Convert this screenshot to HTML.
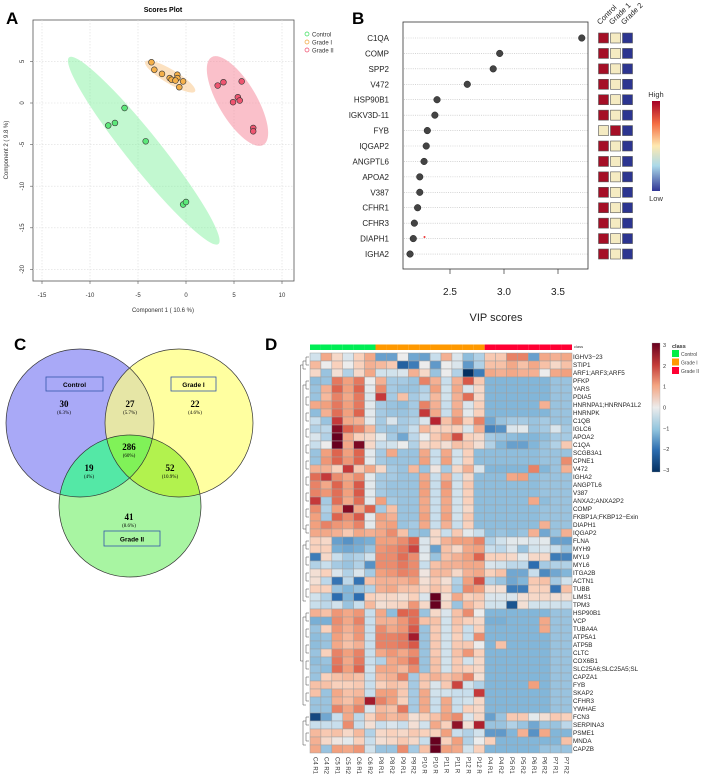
<!DOCTYPE html>
<html><head><meta charset="utf-8"><style>
html,body{margin:0;padding:0;background:#fff;}
svg{display:block;font-family:"Liberation Sans",sans-serif;}
</style></head><body>
<svg id="root" width="708" height="779" viewBox="0 0 708 779" xmlns="http://www.w3.org/2000/svg">
<defs>
<linearGradient id="vipgrad" x1="0" y1="0" x2="0" y2="1">
<stop offset="0" stop-color="#a50026"/><stop offset="0.25" stop-color="#f46d43"/><stop offset="0.5" stop-color="#fee9b0"/><stop offset="0.72" stop-color="#abd9e9"/><stop offset="1" stop-color="#313695"/>
</linearGradient>
<linearGradient id="hmgrad" x1="0" y1="0" x2="0" y2="1">
<stop offset="0" stop-color="#67001f"/><stop offset="0.17" stop-color="#c43c39"/><stop offset="0.33" stop-color="#f4a582"/><stop offset="0.5" stop-color="#ececec"/><stop offset="0.67" stop-color="#92c5de"/><stop offset="0.83" stop-color="#2c6db0"/><stop offset="1" stop-color="#053061"/>
</linearGradient>
<clipPath id="clipC"><circle cx="80" cy="423" r="74"/></clipPath>
<clipPath id="clipG1"><circle cx="179" cy="423" r="74"/></clipPath>
<clipPath id="clipG2"><circle cx="130" cy="506" r="71"/></clipPath>
</defs>

<!-- Panel labels -->
<text x="6" y="24" font-size="17" font-weight="bold">A</text>
<text x="352" y="24" font-size="17" font-weight="bold">B</text>
<text x="14" y="350" font-size="17" font-weight="bold">C</text>
<text x="265" y="350" font-size="17" font-weight="bold">D</text>

<!-- Panel A -->
<g id="panelA">
<text x="163" y="12" font-size="7" font-weight="bold" text-anchor="middle">Scores Plot</text>
<rect x="33" y="20" width="261" height="261" fill="none" stroke="#555" stroke-width="0.8"/>
<g id="aGrid"></g><g id="aEll"></g><g id="aPts"></g><g id="aTicks"></g>
<text x="163" y="312" font-size="6" text-anchor="middle" fill="#333">Component 1 ( 10.6 %)</text>
<text x="8" y="150" font-size="6" text-anchor="middle" fill="#333" transform="rotate(-90 8 150)">Component 2 ( 9.8 %)</text>
</g>
<g>
<circle cx="307" cy="34" r="2" fill="none" stroke="#33dd55" stroke-width="0.7"/>
<text x="312" y="36.5" font-size="6" fill="#333">Control</text>
<circle cx="307" cy="42" r="2" fill="none" stroke="#f0a030" stroke-width="0.7"/>
<text x="312" y="44.5" font-size="6" fill="#333">Grade I</text>
<circle cx="307" cy="50" r="2" fill="none" stroke="#ee4466" stroke-width="0.7"/>
<text x="312" y="52.5" font-size="6" fill="#333">Grade II</text>
</g>

<!-- Panel B -->
<g id="panelB">
<rect x="403" y="22" width="185" height="247" fill="none" stroke="#333" stroke-width="0.8"/>
<g id="bRows"></g><g id="bTicks"></g>
<circle cx="424.5" cy="237" r="1" fill="#e33"/>
<text x="496" y="321" font-size="11" text-anchor="middle" fill="#222">VIP scores</text>
<text x="600" y="25" font-size="7.5" transform="rotate(-45 600 25)" fill="#222">Control</text>
<text x="612" y="25" font-size="7.5" transform="rotate(-45 612 25)" fill="#222">Grade 1</text>
<text x="624" y="25" font-size="7.5" transform="rotate(-45 624 25)" fill="#222">Grade 2</text>
<rect x="652" y="101" width="8" height="90" fill="url(#vipgrad)"/>
<text x="656" y="97" font-size="7.5" text-anchor="middle" fill="#333">High</text>
<text x="656" y="201" font-size="7.5" text-anchor="middle" fill="#333">Low</text>
</g>

<!-- Panel C Venn -->
<g id="panelC">
<circle cx="80" cy="423" r="74" fill="#a9a9f7"/>
<circle cx="179" cy="423" r="74" fill="#ffffa0"/>
<circle cx="130" cy="506" r="71" fill="#a8f5a2"/>
<circle cx="179" cy="423" r="74" fill="#e6e6a6" clip-path="url(#clipC)"/>
<circle cx="130" cy="506" r="71" fill="#54e8a6" clip-path="url(#clipC)"/>
<circle cx="130" cy="506" r="71" fill="#b2f24e" clip-path="url(#clipG1)"/>
<g clip-path="url(#clipC)"><circle cx="130" cy="506" r="71" fill="#80f258" clip-path="url(#clipG1)"/></g>
<circle cx="80" cy="423" r="74" fill="none" stroke="#333" stroke-width="0.7"/>
<circle cx="179" cy="423" r="74" fill="none" stroke="#333" stroke-width="0.7"/>
<circle cx="130" cy="506" r="71" fill="none" stroke="#333" stroke-width="0.7"/>
<rect x="46" y="377" width="57" height="14" fill="none" stroke="#3355aa" stroke-width="0.8"/>
<text x="74.5" y="387" font-size="6.5" font-weight="bold" text-anchor="middle">Control</text>
<rect x="171" y="377" width="45" height="14" fill="none" stroke="#3355aa" stroke-width="0.8"/>
<text x="193.5" y="387" font-size="6.5" font-weight="bold" text-anchor="middle">Grade I</text>
<rect x="104" y="531" width="56" height="15" fill="none" stroke="#3355aa" stroke-width="0.8"/>
<text x="132" y="541.5" font-size="6.5" font-weight="bold" text-anchor="middle">Grade II</text>
<g font-family="'Liberation Serif',serif" text-anchor="middle">
<text x="64" y="407" font-size="9" font-weight="bold">30</text>
<text x="64" y="414" font-size="5">(6.3%)</text>
<text x="130" y="407" font-size="9" font-weight="bold">27</text>
<text x="130" y="414" font-size="5">(5.7%)</text>
<text x="195" y="407" font-size="9" font-weight="bold">22</text>
<text x="195" y="414" font-size="5">(4.6%)</text>
<text x="129" y="450" font-size="9" font-weight="bold">286</text>
<text x="129" y="457" font-size="5">(60%)</text>
<text x="89" y="471" font-size="9" font-weight="bold">19</text>
<text x="89" y="478" font-size="5">(4%)</text>
<text x="170" y="471" font-size="9" font-weight="bold">52</text>
<text x="170" y="478" font-size="5">(10.9%)</text>
<text x="129" y="520" font-size="9" font-weight="bold">41</text>
<text x="129" y="527" font-size="5">(8.6%)</text>
</g>
</g>

<!-- Panel D -->
<g id="panelD">
<g id="dClass"></g><g id="dCells"></g><g id="dRowLab"></g><g id="dColLab"></g><g id="dDendro"></g>
<text x="574" y="348" font-size="4" fill="#333">class</text>
<rect x="652" y="343" width="8" height="129" fill="url(#hmgrad)" stroke="#999" stroke-width="0.3"/>
<g font-size="5.5" fill="#333" id="dScale"></g>
<text x="672" y="348" font-size="5.5" font-weight="bold" fill="#333">class</text>
<rect x="672" y="350" width="7" height="7" fill="#00ee44"/>
<text x="681" y="356" font-size="5" fill="#444">Control</text>
<rect x="672" y="358.5" width="7" height="7" fill="#ff9900"/>
<text x="681" y="364.5" font-size="5" fill="#444">Grade I</text>
<rect x="672" y="367" width="7" height="7" fill="#ff0033"/>
<text x="681" y="373" font-size="5" fill="#444">Grade II</text>
</g>
</svg>
<script>
var NS="http://www.w3.org/2000/svg";
function mk(tag,attrs,parent){var e=document.createElementNS(NS,tag);for(var k in attrs)e.setAttribute(k,attrs[k]);parent.appendChild(e);return e;}

/* ===== Panel A data ===== */
var aXTicks=[-15,-10,-5,0,5,10];
var aYTicks=[5,0,-5,-10,-15,-20];
var ctrlX=[-6.4,-7.4,-8.1,-4.2,-0.3,0.0];
var ctrlY=[-0.6,-2.4,-2.7,-4.6,-12.2,-11.9];
var g1X=[-3.6,-3.3,-2.5,-1.7,-1.5,-0.9,-0.9,-1.1,-0.3,-0.7];
var g1Y=[4.9,4.0,3.5,3.0,2.8,3.4,3.0,2.7,2.6,1.9];
var g2X=[3.3,3.9,5.8,5.4,5.6,4.9,7.0,7.0];
var g2Y=[2.1,2.5,2.6,0.7,0.3,0.1,-3.0,-3.4];
function ax(v){return 42+(v+15)*9.6;}
function ay(v){return 103-v*8.32;}
(function(){
var grid=document.getElementById('aGrid'),tk=document.getElementById('aTicks');
aXTicks.forEach(function(t){
 var l=mk('line',{x1:ax(t),x2:ax(t),y1:20,y2:281,stroke:'#ddd','stroke-dasharray':'1.5,1.5','stroke-width':0.6},grid);
 
 mk('line',{x1:ax(t),x2:ax(t),y1:281,y2:284,stroke:'#555','stroke-width':0.6},tk);
 var tx=mk('text',{x:ax(t),y:297,'font-size':6,'text-anchor':'middle',fill:'#333'},tk);tx.textContent=t;
 
});
aYTicks.forEach(function(t){
 var l=mk('line',{x1:33,x2:294,y1:ay(t),y2:ay(t),stroke:'#ddd','stroke-dasharray':'1.5,1.5','stroke-width':0.6},grid);
 
 mk('line',{x1:30,x2:33,y1:ay(t),y2:ay(t),stroke:'#555','stroke-width':0.6},tk);
 var tx=mk('text',{x:24,y:ay(t),'font-size':6,'text-anchor':'middle',fill:'#333',transform:'rotate(-90 24 '+ay(t)+')'},tk);tx.textContent=t;
 
});
var ell=document.getElementById('aEll');
function ellipse(xs,ys,fill,minor,name){
 var mx=0,my=0,n=xs.length;for(var i=0;i<n;i++){mx+=ax(xs[i]);my+=ay(ys[i]);}mx/=n;my/=n;
 var sxx=0,syy=0,sxy=0;for(i=0;i<n;i++){var dx=ax(xs[i])-mx,dy=ay(ys[i])-my;sxx+=dx*dx;syy+=dy*dy;sxy+=dx*dy;}
 var ang=0.5*Math.atan2(2*sxy,sxx-syy)*180/Math.PI;
 var tr=(sxx+syy)/n,det=(sxx*syy-sxy*sxy)/(n*n),l1=tr/2+Math.sqrt(tr*tr/4-det);
 var major=Math.sqrt(l1)*2.45;
 var e=mk('ellipse',{cx:mx,cy:my,rx:major,ry:minor,fill:fill,transform:'rotate('+ang+' '+mx+' '+my+')'},ell);
 
}
ellipse(ctrlX,ctrlY,'rgba(120,240,150,0.45)',17,'ellipse-control');
ellipse(g1X,g1Y,'rgba(250,200,140,0.55)',7,'ellipse-grade1');
ellipse(g2X,g2Y,'rgba(245,130,150,0.5)',19,'ellipse-grade2');
var pts=document.getElementById('aPts');
function draw(xs,ys,fill,name){for(var i=0;i<xs.length;i++){var c=mk('circle',{cx:ax(xs[i]),cy:ay(ys[i]),r:2.9,fill:fill,stroke:'#333','stroke-width':0.6},pts);
 }}
draw(ctrlX,ctrlY,'#5ce87a','point-control');draw(g1X,g1Y,'#f5b04a','point-grade1');draw(g2X,g2Y,'#ee5570','point-grade2');
})();

/* ===== Panel B data ===== */
var vipNames=["C1QA","COMP","SPP2","V472","HSP90B1","IGKV3D-11","FYB","IQGAP2","ANGPTL6","APOA2","V387","CFHR1","CFHR3","DIAPH1","IGHA2"];
var vipScores=[3.72,2.96,2.90,2.66,2.38,2.36,2.29,2.28,2.26,2.22,2.22,2.20,2.17,2.16,2.13];
var vipTicks=[2.5,3.0,3.5];
var vipCtrl=["H","H","H","H","H","H","M","H","H","H","H","H","H","H","H"];
var vipG1=["M","M","M","M","M","M","H","M","M","M","M","M","M","M","M"];
var vipG2=["L","L","L","L","L","L","L","L","L","L","L","L","L","L","L"];
function bx(v){return 450+(v-2.5)*108;}
function by(i){return 38+i*15.43;}
(function(){
var rows=document.getElementById('bRows'),tk=document.getElementById('bTicks');
var col={H:'#a50f26',M:'#f5ebc2',L:'#2c3590'};
vipNames.forEach(function(n,i){
 var y=by(i);
 mk('line',{x1:404,x2:588,y1:y,y2:y,stroke:'#bbb','stroke-dasharray':'1,1.2','stroke-width':0.6},rows);
 var t=mk('text',{x:389,y:y+3,'font-size':8,'text-anchor':'end',fill:'#222'},rows);t.textContent=n;
 
 var c=mk('circle',{cx:bx(vipScores[i]),cy:y,r:3.3,fill:'#444',stroke:'#222','stroke-width':0.5},rows);
 
 [vipCtrl[i],vipG1[i],vipG2[i]].forEach(function(k,j){
  var r=mk('rect',{x:598.5+j*12,y:y-5,width:10,height:10,fill:col[k],stroke:'#555','stroke-width':0.6},rows);
  
 });
});
vipTicks.forEach(function(t){
 mk('line',{x1:bx(t),x2:bx(t),y1:269,y2:274,stroke:'#333','stroke-width':0.7},tk);
 var tx=mk('text',{x:bx(t),y:295,'font-size':10,'text-anchor':'middle',fill:'#222'},tk);tx.textContent=t.toFixed(1);
 
});
})();

/* ===== Panel D data ===== */
var hmCols=["C4 R1","C4 R2","C5 R1","C5 R2","C6 R1","C6 R2","P8 R1","P8 R2","P9 R1","P9 R2","P10 R","P10 R","P11 R","P11 R","P12 R","P12 R","P4 R1","P4 R2","P5 R1","P5 R2","P6 R1","P6 R2","P7 R1","P7 R2"];
var hmClass=[0,0,0,0,0,0,1,1,1,1,1,1,1,1,1,1,2,2,2,2,2,2,2,2];
var hmRows=["IGHV3\u221223","STIP1","ARF1;ARF3;ARF5","PFKP","YARS","PDIA5","HNRNPA1;HNRNPA1L2","HNRNPK","C1QB","IGLC6","APOA2","C1QA","SCGB3A1","CPNE1","V472","IGHA2","ANGPTL6","V387","ANXA2;ANXA2P2","COMP","FKBP1A;FKBP12\u2212Exin","DIAPH1","IQGAP2","FLNA","MYH9","MYL9","MYL6","ITGA2B","ACTN1","TUBB","LIMS1","TPM3","HSP90B1","VCP","TUBA4A","ATP5A1","ATP5B","CLTC","COX6B1","SLC25A6;SLC25A5;SL","CAPZA1","FYB","SKAP2","CFHR3","YWHAE","FCN3","SERPINA3","PSME1","MNDA","CAPZB"];
var hmScaleTicks=[3,2,1,0,-1,-2,-3];
var hmValues=[
[-0.3,0.9,0.3,-0.2,0.4,0.9,-1.3,-1.3,0,-1.2,-1.3,-0.4,0.8,-0.2,-0.9,-0.6,0.5,0.5,1.3,1.3,-1.3,0.9,0.8,0.9],
[0.7,0,0.4,0,0.4,0.8,0.7,0.5,-2.2,-1.8,0,-1.4,0,-0.2,-1.4,-0.6,0.6,0.6,0.9,0.6,0.9,0.6,0.3,0.6],
[0.3,-0.8,0.2,-0.6,0.3,0.9,-0.3,-0.3,-0.2,0.8,0.3,-0.8,0,-0.6,-3,-1.8,0.9,0.8,0.9,0.8,0.8,0,0.9,1.0],
[-0.9,-0.8,1.4,1.0,1.4,0,0.8,-0.7,-0.7,-0.8,1.3,0.8,-0.4,0.8,1.7,0.5,-1.0,-1.0,-1.0,-1.0,-1.0,-1.0,-0.8,-0.8],
[-0.8,0.8,1.6,1.0,1.6,-0.1,1.2,-0.7,-0.8,-0.8,-0.6,1.0,-0.3,0.9,-0.2,0.3,-1.0,-1.0,-1.0,-1.0,-1.0,-1.0,-0.8,-0.8],
[-0.8,0.7,1.3,0.9,1.4,-0.2,2.0,-0.7,0.6,-0.7,-0.5,0.7,-0.3,0.8,1.5,0.3,-1.0,-1.0,-1.0,-1.0,-1.0,-1.0,-0.8,-0.8],
[0.9,1.0,1.4,1.0,1.4,-0.1,-0.7,-0.8,-0.9,-0.7,1.3,0.8,-0.4,0.8,-0.2,0.4,-1.0,-1.0,-1.0,-1.0,-1.0,0.8,-0.8,-0.8],
[-0.9,0.8,1.5,1.0,1.6,-0.1,-0.7,-0.8,-0.8,-0.7,2.0,0.9,-0.4,0.9,-0.1,0.4,-1.0,-1.0,-1.0,-1.0,-1.0,-1.0,-0.8,-0.8],
[-0.4,-0.8,2.0,0.9,0.8,-0.1,-0.7,-0.2,-0.7,-0.6,-0.2,2.2,0.6,1.2,0.4,1.3,-1.2,-0.8,-0.7,-0.7,-0.8,-0.7,-0.8,-0.8],
[-0.6,-0.5,2.7,1.6,1.3,0.7,-0.7,-0.8,-0.7,-0.4,0.7,0.4,0.4,0.4,-0.2,0.8,-1.7,-1.5,-0.2,-0.1,-0.8,-0.7,-0.2,-0.7],
[-0.2,-0.6,3,0.9,0.4,0.3,-0.1,-0.7,-1.2,-0.5,0,0.5,0.9,1.8,0.4,0.3,-0.7,-0.8,-0.9,-1.0,-1.0,-0.9,-0.7,-0.7],
[-0.4,0,3,0.9,2.8,0.3,-0.4,-0.3,0,-0.6,0.3,0.4,0.2,0.6,0.5,0.2,-0.6,-1.0,-1.3,-1.3,-1.0,-0.8,-0.6,0.5],
[-0.8,1.0,1.6,1.0,1.6,-0.1,-0.7,0.9,-0.8,-0.8,0.9,-0.4,0.9,-0.3,0.4,-0.9,-0.9,-0.9,-0.9,-0.9,-0.9,-0.8,-0.8,-0.8],
[-0.8,1.1,1.6,1.1,1.6,-0.1,-0.7,-0.8,-0.8,-0.8,1.0,-0.4,1.0,-0.3,0.4,-0.9,-0.9,-0.9,-0.9,-0.9,-0.9,-0.8,-0.8,1.2],
[0.8,0.8,0.4,2.0,0.5,0.9,0.3,-0.7,-0.8,0.7,-0.8,0.1,-0.7,0.3,0.8,-0.2,-1.0,-1.0,-1.0,-1.0,1.3,-1.0,-0.8,0.8],
[1.5,2.0,1.2,0.9,1.2,-0.1,-0.7,-0.7,-0.8,-0.8,0.9,-0.4,0.8,-0.4,0.3,-0.9,-0.9,-0.9,0.9,1.0,-0.9,-0.8,-0.8,-0.8],
[1.3,0.9,1.6,1.0,1.7,-0.1,-0.7,-0.8,-0.8,-0.8,1.0,-0.4,1.1,-0.3,0.5,-0.9,-0.9,-0.9,-0.9,-0.9,-0.9,-0.8,-0.8,-0.8],
[1.3,1.1,1.5,1.0,1.7,-0.1,-0.7,-0.8,-0.8,-0.8,1.0,-0.4,1.0,-0.3,0.4,-0.9,-0.9,-0.9,-0.9,-0.9,-0.9,-0.8,-0.8,-0.8],
[2.0,-0.7,1.5,0.9,1.5,-0.1,1.0,-0.7,-0.8,-0.8,0.9,-0.4,0.9,-0.3,0.4,-0.9,-0.9,-0.9,-0.9,-0.9,0.9,-0.9,-0.8,-0.8],
[1.2,-0.6,1.0,2.7,0.9,1.6,-0.7,0.6,-0.8,-0.8,0.9,-0.4,0.9,-0.3,0.3,-0.9,-0.9,-0.9,-0.9,-0.9,-0.9,-0.8,-0.8,-0.8],
[1.0,-0.7,1.6,1.2,1.7,-0.1,1.0,0.8,-0.8,-0.8,1.0,-0.4,1.0,-0.3,0.5,-0.9,-0.9,-0.9,-0.9,-0.9,-0.9,-0.8,-0.8,-0.8],
[1.0,1.3,1.1,1.0,1.3,-0.1,0.9,1.0,-0.8,-0.7,0.9,-0.4,0.8,-0.4,0.4,-0.9,-0.9,-0.9,-0.9,-0.9,-0.9,0.8,-0.8,-0.8],
[0.9,0.9,0.8,0.5,0.9,0.8,0.9,1.2,0.6,-0.8,-0.9,0.3,-0.4,0.5,-0.1,-0.4,-0.9,-0.8,-0.9,-0.8,0.8,-1.2,-0.8,0.8],
[0.4,0.3,-1.3,-1.5,-1.2,-1.1,1.0,1.0,1.2,1.6,-0.2,0.3,0.8,1.0,1.0,1.3,-0.6,-0.3,-0.1,-0.1,-0.2,-0.1,-1.3,-1.3],
[0.4,0.4,-1.1,-1.2,-1.1,-0.8,1.1,1.2,1.4,1.9,-0.2,-1.3,0.6,0.3,0.9,1.0,-0.4,-0.5,-0.2,-0.8,-0.3,-0.2,-0.4,-0.8],
[-1.8,0.3,-0.4,-0.7,-0.6,-0.3,1.2,1.2,1.5,1.2,-0.1,-0.8,0.6,0.8,1.0,1.6,0.4,0.4,0.3,-0.1,0.3,0.3,-1.8,-1.7],
[-0.6,-0.4,-0.7,-0.8,-0.6,-1.5,1.2,1.2,1.4,1.2,-0.4,0.6,0.8,0.8,0.9,0.9,-0.2,-0.3,-0.5,-0.5,-2.0,-0.7,-0.6,-0.6],
[0.2,0.4,-0.2,-0.6,-0.2,-0.7,1.0,1.1,1.3,1.2,0.1,0.7,0.7,0.3,0.8,0.9,0.4,0.6,-1.2,-1.2,-0.4,-1.6,-1.2,-1.0],
[0.2,-0.5,-1.9,-0.5,-1.9,0.6,0.8,0.8,0.8,1.0,0.2,0.5,0.2,-0.6,1.0,1.8,-0.6,-0.8,-1.2,-1.0,0.5,0.6,-0.7,-0.3],
[0.4,0.4,-0.8,-1.0,-0.8,-0.6,0.8,0.9,0.6,0.6,0.3,0.6,0.4,-0.7,1.2,1.0,0.2,0.2,-1.8,-1.8,0.4,0.4,-1.9,0.6],
[-0.3,-0.6,-2.0,-1.0,-2.0,0.4,0.3,0.3,0.2,0.4,-0.2,3,0.2,0.9,0.4,0.5,-0.2,-0.2,-0.2,0.2,0.3,0.3,0.2,0.2],
[-0.4,-0.5,-0.3,-0.8,-0.4,0.7,0.2,0.3,0.4,1.1,0.3,3,0.3,-0.8,0.7,0.4,-0.3,-0.3,-2.4,0.2,-0.3,-0.3,-0.3,-0.4],
[0.8,0.6,1.1,0.9,1.1,-0.4,0.9,-0.9,1.6,1.5,-0.8,0.3,-0.2,0.6,1.2,0,-1.0,-1.0,-1.0,-1.0,-1.0,-1.0,-0.8,-0.8],
[-1.1,-1.1,1.2,0.9,1.3,-0.4,0.8,0.8,1.1,1.5,0.6,0.6,-0.3,0.6,0.4,0.3,-1.1,-1.1,-1.0,-1.0,-1.0,0.9,-0.8,-0.8],
[-0.8,0.4,1.1,0.8,1.1,-0.4,1.2,0.9,1.1,1.7,-0.8,0.5,-0.3,0.5,-0.4,0.4,-1.0,-1.0,-1.0,-1.0,-1.0,0.9,-0.8,-0.8],
[-0.9,-0.8,1.0,0.7,1.1,-0.4,1.3,1.3,1.4,2.4,-0.8,0.5,-0.3,0.4,-0.4,1.2,-1.0,-1.0,-1.0,-1.0,-1.0,-1.0,-0.8,-0.8],
[-0.9,-0.8,0.9,0.6,0.8,-0.4,1.3,1.3,1.4,1.7,-0.8,0.5,-0.3,0.5,0.5,0,-1.0,0.6,-1.0,-1.0,-1.0,-1.0,-0.8,-0.8],
[-0.8,0.4,1.3,1.0,1.3,-0.4,0.9,1.1,0.9,1.2,-0.8,0.5,-0.3,0.6,1.1,0.4,-1.0,-1.0,-1.0,-1.0,-1.0,-1.0,-0.8,-0.8],
[-0.9,-0.8,1.4,0.9,1.4,-0.4,-0.6,0.9,1.1,1.5,-0.8,0.6,-0.3,0.5,-0.3,0.3,-1.0,-1.0,-1.0,-1.0,-1.0,-1.0,-0.8,-0.8],
[-0.8,-0.9,1.5,1.0,1.6,-0.3,0.9,0.9,0.7,1.2,-0.8,0.6,-0.3,0.5,0.4,0.3,-1.0,-1.0,-1.0,-1.0,-1.0,-1.0,-0.8,-0.8],
[-0.8,0.4,0.6,0.7,0.6,-0.4,0.7,0.8,1.3,-0.7,0.6,0.8,0.6,0.8,1.3,0.2,-1.0,-1.0,-1.0,-1.0,-1.0,-1.0,-0.8,-0.8],
[0.6,0.6,0.4,0.4,0.5,-0.4,0.4,0.6,0.5,-0.7,0.5,-0.2,0.5,1.9,-0.3,-0.6,-1.0,-1.0,-1.0,-1.0,1.0,-1.0,-0.8,-0.8],
[0.6,-0.8,0.9,0.6,0.7,-0.4,1.0,1.0,0.5,-0.7,0.9,-0.3,-0.3,-0.4,-0.4,2.0,-1.0,-1.0,-1.0,-1.0,-1.0,-1.0,-0.8,-0.8],
[-0.8,-0.8,0.8,0.6,1.0,2.4,1.3,1.0,0.4,-0.7,0.9,-0.4,0.9,-0.4,-0.3,0.3,-1.0,-1.0,-1.0,-1.0,-1.0,-1.0,-0.8,-0.8],
[-0.8,-0.8,1.3,0.9,1.3,-0.2,0.7,0.6,1.4,-0.7,0.9,-0.4,0.9,-0.4,0.4,0.3,-1.0,-1.0,-1.0,-1.0,-1.0,-1.0,-0.8,-0.8],
[-2.6,-1.2,-0.4,0.9,-0.5,0.4,0.9,0.7,0.8,0.2,0.4,0.6,1.0,1.2,-0.2,0.3,-1.3,-0.8,0.5,0.5,-0.1,0.2,0.5,0.4],
[-0.4,-0.4,-0.4,1.2,-0.4,0.2,-0.4,-0.2,-0.4,0.2,-0.3,0.9,0.4,2.6,0.2,2.3,-0.8,-0.8,-0.6,-0.8,-1.2,-0.8,-0.8,-0.5],
[0.7,0.5,0.6,0.3,0.7,-0.6,0.3,0.4,0.3,0.5,0.4,0.4,1.0,-0.4,-0.6,-0.3,-1.4,-1.4,-1.0,0.8,-1.5,0.9,-1.0,-1.0],
[0.8,0.3,0.1,-0.1,0.4,-0.4,0.2,0.3,0.5,0.3,-0.4,3,0.4,1.0,-0.6,0,0.4,-1.0,-1.0,-1.0,-1.0,-1.0,-1.0,0.6],
[0.9,-0.8,1.0,0.9,1.1,-0.3,-0.8,-0.8,1.2,-0.7,0.6,3,1.0,0.9,-0.3,0.4,-1.0,-1.0,-1.0,-1.0,-1.0,-0.8,-0.8,-0.8]
];
var HX0=310,HY0=353,CW=262/24,RH=8;
function hx(j){return HX0+j*CW;}
function hy(i){return HY0+i*RH;}
var stops=[[-3,[5,48,97]],[-2,[44,109,176]],[-1,[130,182,217]],[-0.4,[200,222,236]],[0,[236,236,236]],[0.4,[249,209,188]],[1,[242,160,126]],[1.6,[222,100,78]],[2.2,[184,36,48]],[3,[103,0,31]]];
function hcol(v){
 if(v<=stops[0][0])return 'rgb('+stops[0][1]+')';
 for(var k=1;k<stops.length;k++){if(v<=stops[k][0]){var a=stops[k-1],b=stops[k],t=(v-a[0])/(b[0]-a[0]);
  return 'rgb('+[0,1,2].map(function(c){return Math.round(a[1][c]+(b[1][c]-a[1][c])*t);}).join(',')+')';}}
 return 'rgb('+stops[stops.length-1][1]+')';
}
(function(){
var cells=document.getElementById('dCells'),cls=document.getElementById('dClass'),rl=document.getElementById('dRowLab'),cl=document.getElementById('dColLab');
var ccol=['#00ee55','#ff9900','#ff0033'];
hmClass.forEach(function(c,j){
 var r=mk('rect',{x:hx(j),y:344.5,width:CW,height:5.5,fill:ccol[c]},cls);
 
});
hmValues.forEach(function(row,i){
 row.forEach(function(v,j){
  var r=mk('rect',{x:hx(j),y:hy(i),width:CW,height:RH,fill:hcol(v),stroke:'#a0a0a0','stroke-width':0.5},cells);
  
 });
 var t=mk('text',{x:573,y:hy(i)+6,'font-size':6.3,fill:'#222'},rl);t.textContent=hmRows[i];
 
});
hmCols.forEach(function(n,j){
 var x=hx(j)+CW/2-2,y=757;
 var t=mk('text',{x:x,y:y,'font-size':6,fill:'#333',transform:'rotate(90 '+x+' '+y+')'},cl);t.textContent=n;
 
});
var sc=document.getElementById('dScale');
hmScaleTicks.forEach(function(t,k){
 var y=345+(3-t)/6*125;
 var tx=mk('text',{x:663,y:y+2,'font-size':5.5},sc);tx.textContent=(t<0?'\u2212'+(-t):t);
 
});
/* dendrogram (structure only) */
var dd=document.getElementById('dDendro');
var groups=[[0,2],[3,22],[23,31],[32,44],[45,49]];
function rowc(i){return hy(i)+RH/2;}
groups.forEach(function(g){
 for(var i=g[0];i<g[1];i+=2){var y1=rowc(i),y2=rowc(Math.min(i+1,g[1]));
  mk('path',{d:'M309 '+y1+'H306V'+y2+'H309',fill:'none',stroke:'#444','stroke-width':0.5},dd);}
 var a=rowc(g[0]),b=rowc(g[1]);
 mk('path',{d:'M306 '+((a+rowc(Math.min(g[0]+1,g[1])))/2)+'H303V'+((b+rowc(Math.max(g[1]-1,g[0])))/2)+'H306',fill:'none',stroke:'#444','stroke-width':0.5},dd);
});
mk('path',{d:'M303 '+rowc(1)+'H300.5V'+rowc(38)+'H303',fill:'none',stroke:'#444','stroke-width':0.5},dd);
})();
</script>
</body></html>
